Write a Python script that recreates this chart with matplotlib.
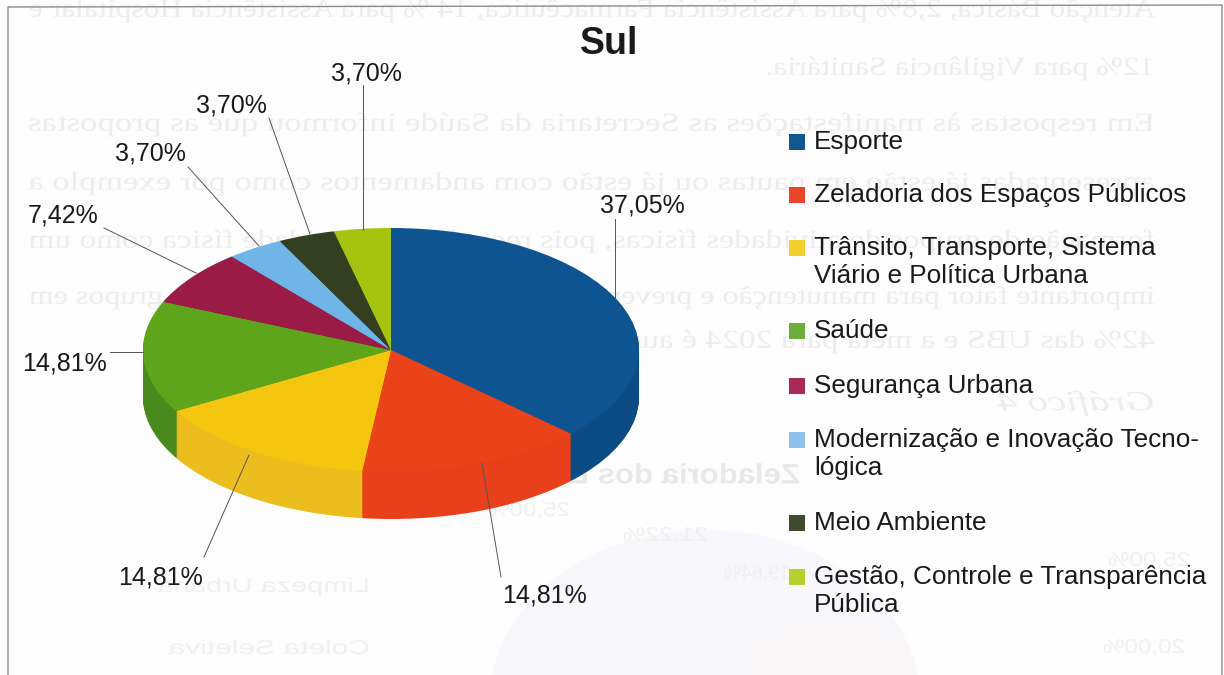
import matplotlib
matplotlib.use('Agg')
import matplotlib.pyplot as plt
from matplotlib.font_manager import FontProperties
from matplotlib.patches import PathPatch, Rectangle, Ellipse
from matplotlib.textpath import TextPath
from matplotlib.transforms import Affine2D

categories = ['Esporte', 'Zeladoria dos Espaços Públicos',
              'Trânsito, Transporte, Sistema\nViário e Política Urbana', 'Saúde',
              'Segurança Urbana', 'Modernização e Inovação Tecno-\nlógica',
              'Meio Ambiente', 'Gestão, Controle e Transparência\nPública']
values = [37.05, 14.81, 14.81, 14.81, 7.42, 3.70, 3.70, 3.70]
value_labels = ['37,05%', '14,81%', '14,81%', '14,81%', '7,42%', '3,70%', '3,70%', '3,70%']
top_colors = ['#0E5491', '#EA4319', '#F4C60F', '#5FA51B', '#9A1B45', '#70B5E8', '#333F20', '#A6C40F']
side_colors = ['#0C4C84', '#E8401A', '#EBBE1E', '#4A8A1C', '#7E1539', '#5E9CCB', '#2A3419', '#8DA80C']
legend_colors = ['#12568F', '#E8452A', '#F2CF2E', '#6DAE3A', '#A8285A', '#8FC3EE', '#3F4A2E', '#B5CF2C']

# show-through of the back of the scanned page, it reads mirrored: (x start, x end, y, text)
ghost_lines = [
    (1155, 30, 9, 'Atenção Básica, 2,8% para Assistência Farmacêutica, 14 % para Assistência Hospitalar e'),
    (1155, 770, 67, '12% para Vigilância Sanitária.'),
    (1155, 30, 123, 'Em respostas às manifestações as Secretaria da Saúde informou que as propostas'),
    (1155, 30, 182, 'apresentadas já estão em pautas ou já estão com andamentos como por exemplo a'),
    (1155, 30, 240, 'formação de grupos de atividades físicas, pois reconhece a atividade física como um'),
    (1155, 30, 296, 'importante fator para manutenção e prevenção da saúde. Atualmente existem grupos em'),
    (1155, 550, 340, '42% das UBS e a meta para 2024 é aumentar'),
]
ghost_numbers = [(570, 490, 510, '25,00%'), (708, 625, 535, '21,22%'), (1190, 1110, 560, '25,00%'),
                 (790, 726, 573, '19,64%'), (1185, 1105, 647, '20,00%'),
                 (370, 160, 586, 'Limpeza Urbana'), (370, 170, 648, 'Coleta Seletiva')]

plt.rcParams['font.family'] = ['Liberation Sans', 'DejaVu Sans']
fig = plt.figure(figsize=(12.24, 6.75), dpi=100, facecolor='#FDFDFE')

# pixel axes underneath: scan ghost and frame
bg = fig.add_axes([0, 0, 1, 1], zorder=0)
bg.set_xlim(0, 1224)
bg.set_ylim(675, 0)
bg.axis('off')


def ghost(x0, x1, y, s, family='Liberation Serif', size=26, style='normal', weight='normal', color='#EDEDEE'):
    tp = TextPath((0, 0), s, size=size, prop=FontProperties(family=family, style=style, weight=weight))
    sx = (x0 - x1) / tp.get_extents().width
    tr = Affine2D().scale(-sx, -1).translate(x0, y + size * 0.3)
    bg.add_patch(PathPatch(tp, transform=tr + bg.transData, fc=color, ec='none'))


bg.add_patch(Ellipse((705, 700), 430, 340, fc='#F8F8FC', ec='none'))
bg.add_patch(Ellipse((830, 665), 170, 80, fc='#FBF7F9', ec='none'))
for x0, x1, y, s in ghost_lines:
    ghost(x0, x1, y, s)
ghost(1155, 1000, 402, 'Gráfico 4', style='italic', size=28)
ghost(800, 325, 475, 'Zeladoria dos Espaços Públicos', family='Liberation Sans', weight='bold', size=28, color='#E8E8E9')
for x0, x1, y, s in ghost_numbers:
    ghost(x0, x1, y, s, family='Liberation Sans', size=20, color='#F0F0F1')
bg.plot([8, 8, 1222, 1222], [675, 7, 5, 675], color='#8C8C8C', lw=1)

# the pie, squashed into an ellipse, stacked for the depth
cx, cy, rx, ry, depth = 391, 350, 248, 122, 47
ax = fig.add_axes([0, 0, 1, 1], zorder=1)
ax.patch.set_alpha(0)
for d in range(depth, 0, -1):
    ax.pie(values, colors=side_colors, startangle=90, counterclock=False,
           center=(0, -d / ry), radius=1, wedgeprops={'linewidth': 0})
ax.pie(values, colors=top_colors, startangle=90, counterclock=False,
       center=(0, 0), radius=1, wedgeprops={'linewidth': 0})
ax.set_aspect('auto')
ax.set_xlim(-cx / rx, (1224 - cx) / rx)
ax.set_ylim((cy - 675) / ry, cy / ry)
ax.axis('off')

# pixel axes on top: title, labels, leaders, legend
ov = fig.add_axes([0, 0, 1, 1], zorder=2)
ov.patch.set_alpha(0)
ov.set_xlim(0, 1224)
ov.set_ylim(675, 0)
ov.axis('off')

ov.text(609, 44, 'Sul', ha='center', va='center', fontsize=27, weight='bold', color='#1A1A1A')

label_pos = [(642, 206), (544, 595), (160, 578), (65, 363), (63, 215), (150, 153), (231, 106), (366, 73)]
leaders = [((615, 219), (615, 297)), ((501, 577), (482, 463)), ((204, 557), (249, 455)),
           ((110, 352), (143, 352)), ((104, 228), (196, 273)), ((188, 167), (259, 246)),
           ((269, 118), (310, 234)), ((363, 85), (363, 230))]
for s, (x, y), (p0, p1) in zip(value_labels, label_pos, leaders):
    ov.text(x, y, s, ha='center', va='center', fontsize=18, color='#1A1A1A')
    ov.plot([p0[0], p1[0]], [p0[1], p1[1]], color='#555555', lw=0.7)

legend_y = [142, 195, 248, 331, 386, 440, 523, 577]
for name, col, y in zip(categories, legend_colors, legend_y):
    ov.add_patch(Rectangle((789, y - 8), 16, 16, fc=col, ec='none'))
    ov.text(814, y - 12, name, ha='left', va='top', fontsize=18.8, color='#1A1A1A', linespacing=1.22)

fig.savefig('out.png', dpi=100, facecolor=fig.get_facecolor())
